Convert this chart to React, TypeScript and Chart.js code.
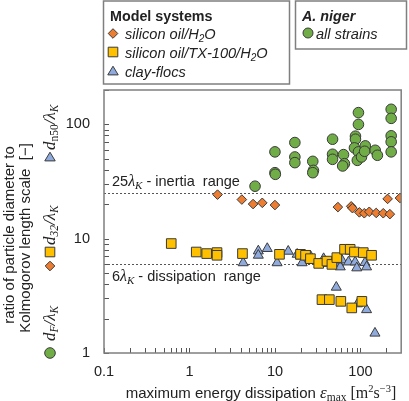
import React, { useEffect, useRef } from "react";
import { Chart, registerables } from "chart.js";

Chart.register(...registerables);

// ---------- data ----------
const nigerX = [5.85, 10, 10, 10.1, 17.1, 17.1, 17.1, 27.7, 28.2, 27.7, 47.2, 47.2, 47.2, 63.4, 65, 62, 94.8, 94.8, 87.5, 87.5, 85.1, 94.8, 92, 103, 114, 112, 149, 158, 229, 229, 229, 229, 229];
const nigerY = [28.8, 57.5, 37.8, 36.6, 69.4, 51.9, 46.3, 47.5, 39.6, 37.8, 74.2, 54.8, 49.5, 54.4, 45.3, 43.3, 126.8, 100, 78.9, 74.2, 62.3, 57.5, 48.5, 51.9, 64.9, 58.2, 59.4, 53.7, 135.6, 113, 79.5, 70.4, 57.5];

const oilX = [2.13, 4.1, 5.55, 7.11, 10, 54.5, 78, 80.7, 97.3, 111, 127, 153, 185, 221, 208, 290];
const oilY = [24.3, 22.0, 20.1, 20.6, 19.7, 18.9, 19.2, 18.5, 17.0, 16.7, 17.2, 16.8, 16.7, 16.4, 22.3, 22.7];

const tritonX = [0.612, 1.2, 1.59, 2.1, 2.1, 4.17, 11.3, 19.9, 22.8, 26.0, 32.5, 40.6, 46.4, 53.0, 65.2, 75.9, 85.1, 108, 135, 35.5, 43.3, 59.0, 79.2, 104];
const tritonY = [9.07, 7.65, 7.41, 7.56, 7.16, 7.41, 7.3, 7.3, 7.16, 6.69, 6.08, 6.37, 5.96, 6.83, 8.08, 8.08, 7.65, 7.56, 7.16, 2.93, 2.93, 2.83, 2.48, 2.83];

const clayX = [4.25, 6.39, 6.39, 8.13, 10.6, 14.3, 18.2, 19.9, 20.8, 26.0, 26.9, 37.1, 39.5, 55.5, 58.1, 60.6, 72.5, 86.8, 90.6, 113, 118, 52.2, 92.3, 118, 148];
const clayY = [6.15, 7.81, 7.16, 8.2, 6.15, 7.76, 7.3, 7.05, 6.15, 7.05, 6.47, 6.69, 6.08, 6.08, 5.66, 6.51, 6.25, 6.25, 5.55, 6.17, 5.66, 3.76, 2.69, 2.39, 1.49];

const refLevels = [25, 6];

const xTickVals = [0.1, 0.2, 0.3, 0.4, 0.5, 0.6, 0.7, 0.8, 0.9, 1, 2, 3, 4, 5, 6, 7, 8, 9, 10, 20, 30, 40, 50, 60, 70, 80, 90, 100, 200];
const xLabelVals = [0.1, 1, 10, 100];
const xLabelText = ["0.1", "1", "10", "100"];
const yTickVals = [1, 2, 3, 4, 5, 6, 7, 8, 9, 10, 20, 30, 40, 50, 60, 70, 80, 90, 100, 200];
const yLabelVals = [1, 10, 100];
const yLabelText = ["1", "10", "100"];

// ---------- styles ----------
const SANS = '"Liberation Sans", Arial, sans-serif';
const SERIF = '"Liberation Serif", "DejaVu Serif", serif';
const GREEN = "#70AD47";
const ORANGE = "#ED7D31";
const YELLOW = "#FFC000";
const BLUE = "#8FAADC";
const EDGE = "#3a3a3a";
const TEXT = "#222222";
const FRAME = "#7f7f7f";

type Seg = { t: string; f: string; dy?: number };

function drawRich(ctx: CanvasRenderingContext2D, segs: Seg[], x: number, y: number) {
  let cx = x;
  for (const s of segs) {
    ctx.font = s.f;
    ctx.fillText(s.t, cx, y + (s.dy || 0));
    cx += ctx.measureText(s.t).width;
  }
  return cx;
}
function richWidth(ctx: CanvasRenderingContext2D, segs: Seg[]) {
  let w = 0;
  for (const s of segs) {
    ctx.font = s.f;
    w += ctx.measureText(s.t).width;
  }
  return w;
}

function marker(ctx: CanvasRenderingContext2D, style: string, x: number, y: number, r: number, fill: string) {
  ctx.save();
  ctx.fillStyle = fill;
  ctx.strokeStyle = EDGE;
  ctx.lineWidth = 1;
  ctx.beginPath();
  if (style === "circle") {
    ctx.arc(x, y, r, 0, Math.PI * 2);
  } else if (style === "rect") {
    const s = r * Math.SQRT1_2;
    ctx.rect(x - s, y - s, 2 * s, 2 * s);
  } else if (style === "rectRot") {
    ctx.moveTo(x, y - r);
    ctx.lineTo(x + r, y);
    ctx.lineTo(x, y + r);
    ctx.lineTo(x - r, y);
    ctx.closePath();
  } else {
    const h = r * 1.5;
    ctx.moveTo(x, y - r);
    ctx.lineTo(x + r * 0.9, y + h - r);
    ctx.lineTo(x - r * 0.9, y + h - r);
    ctx.closePath();
  }
  ctx.fill();
  ctx.stroke();
  ctx.restore();
}

const zip = (xs: number[], ys: number[]) => xs.map((x, i) => ({ x, y: ys[i] }));

const decor = {
  id: "decor",
  beforeDatasetsDraw(chart: any) {
    const { ctx, chartArea: ca, scales } = chart;
    const y = scales.y;
    ctx.save();
    ctx.strokeStyle = "#555";
    ctx.lineWidth = 1;
    ctx.setLineDash([2, 2]);
    for (const v of refLevels) {
      const py = Math.round(y.getPixelForValue(v)) + 0.5;
      ctx.beginPath();
      ctx.moveTo(ca.left, py);
      ctx.lineTo(ca.right, py);
      ctx.stroke();
    }
    ctx.setLineDash([]);
    ctx.fillStyle = TEXT;
    ctx.textBaseline = "alphabetic";
    ctx.textAlign = "left";
    const f13 = `14.5px ${SANS}`;
    const lam = `italic 16px ${SERIF}`;
    const sub = `italic 11px ${SERIF}`;
    drawRich(ctx, [
      { t: "25", f: f13 },
      { t: "λ", f: lam },
      { t: "K", f: sub, dy: 3 },
      { t: " - inertia  range", f: f13 },
    ], ca.left + 8, y.getPixelForValue(25) - 7);
    drawRich(ctx, [
      { t: "6", f: f13 },
      { t: "λ", f: lam },
      { t: "K", f: sub, dy: 3 },
      { t: " - dissipation  range", f: f13 },
    ], ca.left + 8, y.getPixelForValue(6) + 17);
    ctx.restore();
  },
  afterDraw(chart: any) {
    const { ctx, chartArea: ca, scales } = chart;
    const xs = scales.x;
    const ys = scales.y;
    ctx.save();
    // inward ticks
    ctx.strokeStyle = "#555";
    ctx.lineWidth = 1;
    for (const v of yTickVals) {
      const py = Math.round(ys.getPixelForValue(v)) + 0.5;
      ctx.beginPath();
      ctx.moveTo(ca.left, py);
      ctx.lineTo(ca.left + 5, py);
      ctx.stroke();
    }
    for (const v of xTickVals) {
      const px = Math.round(xs.getPixelForValue(v)) + 0.5;
      ctx.beginPath();
      ctx.moveTo(px, ca.bottom);
      ctx.lineTo(px, ca.bottom - 5);
      ctx.stroke();
    }
    // frame
    ctx.strokeStyle = FRAME;
    ctx.lineWidth = 1.5;
    ctx.strokeRect(ca.left, ca.top, ca.right - ca.left, ca.bottom - ca.top);

    // legend boxes
    ctx.strokeRect(103.5, 1, 186, 83);
    ctx.strokeRect(295.5, 1, 111, 48);
    ctx.fillStyle = TEXT;
    ctx.textBaseline = "alphabetic";
    ctx.textAlign = "left";
    const it = `italic 14.6px ${SANS}`;
    const itSub = `italic 10px ${SANS}`;
    ctx.font = `bold 14.3px ${SANS}`;
    ctx.fillText("Model systems", 110, 21);
    marker(ctx, "rectRot", 113, 33.5, 4.8, ORANGE);
    drawRich(ctx, [
      { t: "silicon oil/H", f: it },
      { t: "2", f: itSub, dy: 3 },
      { t: "O", f: it },
    ], 125, 38.5);
    marker(ctx, "rect", 113, 52, 6.8, YELLOW);
    drawRich(ctx, [
      { t: "silicon oil/TX-100/H", f: it },
      { t: "2", f: itSub, dy: 3 },
      { t: "O", f: it },
    ], 125, 57.5);
    marker(ctx, "triangle", 113, 72, 5.8, BLUE);
    drawRich(ctx, [{ t: "clay-flocs", f: it }], 125, 76.5);

    ctx.font = `bold italic 14.3px ${SANS}`;
    ctx.fillText("A. niger", 302, 21);
    marker(ctx, "circle", 308, 33, 5, GREEN);
    drawRich(ctx, [{ t: "all strains", f: it }], 316, 38.5);

    // x title
    const f13 = `15px ${SANS}`;
    const xt: Seg[] = [
      { t: "maximum energy dissipation ", f: f13 },
      { t: "ε", f: `italic 17px ${SERIF}` },
      { t: "max", f: `11.5px ${SERIF}`, dy: 3 },
      { t: " [m", f: `16px ${SERIF}` },
      { t: "2", f: `10.5px ${SERIF}`, dy: -6 },
      { t: "s", f: `16px ${SERIF}` },
      { t: "−3", f: `10.5px ${SERIF}`, dy: -6 },
      { t: "]", f: `16px ${SERIF}` },
    ];
    const xw = richWidth(ctx, xt);
    drawRich(ctx, xt, 261 - xw / 2, 398);

    // y title (rotated)
    ctx.save();
    ctx.translate(10, 235);
    ctx.rotate(-Math.PI / 2);
    ctx.textAlign = "center";
    ctx.textBaseline = "middle";
    ctx.font = `15px ${SANS}`;
    ctx.fillText("ratio of particle diameter to", 0, 0);
    ctx.restore();
    ctx.save();
    ctx.translate(26, 238);
    ctx.rotate(-Math.PI / 2);
    ctx.textAlign = "center";
    ctx.textBaseline = "middle";
    ctx.font = `15px ${SANS}`;
    ctx.fillText("Kolmogorov length scale  [−]", 0, 0);
    ctx.restore();

    // rotated symbol legend
    const dF = `italic 17px ${SERIF}`;
    const sb = `italic 11.5px ${SERIF}`;
    marker(ctx, "circle", 50, 353, 5.3, GREEN);
    marker(ctx, "rectRot", 50, 266, 4.8, ORANGE);
    marker(ctx, "rect", 50, 252, 6.8, YELLOW);
    marker(ctx, "triangle", 50, 158, 5.8, BLUE);
    ctx.save();
    ctx.translate(50, 353);
    ctx.rotate(-Math.PI / 2);
    ctx.fillStyle = TEXT;
    ctx.textAlign = "left";
    ctx.textBaseline = "alphabetic";
    drawRich(ctx, [
      { t: "d", f: dF },
      { t: "F", f: sb, dy: 3 },
      { t: "/λ", f: dF },
      { t: "K", f: sb, dy: 3 },
    ], 12, 5);
    drawRich(ctx, [
      { t: "d", f: dF },
      { t: "32", f: sb, dy: 3 },
      { t: "/λ", f: dF },
      { t: "K", f: sb, dy: 3 },
    ], 108, 5);
    drawRich(ctx, [
      { t: "d", f: dF },
      { t: "n50", f: `11.5px ${SERIF}`, dy: 3 },
      { t: "/λ", f: dF },
      { t: "K", f: sb, dy: 3 },
    ], 203, 5);
    ctx.restore();

    ctx.restore();
  },
};

export default function App() {
  const ref = useRef<HTMLCanvasElement | null>(null);
  useEffect(() => {
    if (!ref.current) return;
    const tickFont = { family: SANS, size: 14.5 };
    const chart = new Chart(ref.current, {
      type: "scatter",
      data: {
        datasets: [
          {
            label: "A. niger – all strains",
            data: zip(nigerX, nigerY),
            pointStyle: "circle",
            pointRadius: 5.3,
            backgroundColor: GREEN,
            borderColor: EDGE,
            borderWidth: 1,
          },
          {
            label: "silicon oil/H2O",
            data: zip(oilX, oilY),
            pointStyle: "rectRot",
            pointRadius: 4.8,
            backgroundColor: ORANGE,
            borderColor: EDGE,
            borderWidth: 1,
          },
          {
            label: "silicon oil/TX-100/H2O",
            data: zip(tritonX, tritonY),
            pointStyle: "rect",
            pointRadius: 6.8,
            backgroundColor: YELLOW,
            borderColor: EDGE,
            borderWidth: 1,
          },
          {
            label: "clay-flocs",
            data: zip(clayX, clayY),
            pointStyle: "triangle",
            pointRadius: 5.8,
            backgroundColor: BLUE,
            borderColor: EDGE,
            borderWidth: 1,
          },
        ],
      },
      options: {
        responsive: false,
        animation: false,
        devicePixelRatio: 1,
        layout: { padding: { top: 90, right: 4, left: 0, bottom: 0 } },
        plugins: { legend: { display: false }, tooltip: { enabled: false } },
        scales: {
          x: {
            type: "logarithmic",
            min: 0.1,
            max: 300,
            afterBuildTicks: (s: any) => {
              s.ticks = xTickVals.map((v) => ({ value: v }));
            },
            afterFit: (s: any) => {
              s.height = 48;
            },
            grid: { display: false, drawTicks: false },
            border: { display: false },
            ticks: {
              autoSkip: false,
              maxRotation: 0,
              padding: 10,
              font: tickFont,
              color: TEXT,
              callback: (v: any) => {
                const i = xLabelVals.findIndex((t) => Math.abs(t - Number(v)) < 1e-9);
                return i >= 0 ? xLabelText[i] : "";
              },
            },
          },
          y: {
            type: "logarithmic",
            min: 1,
            max: 200,
            afterBuildTicks: (s: any) => {
              s.ticks = yTickVals.map((v) => ({ value: v }));
            },
            afterFit: (s: any) => {
              s.width = 104;
            },
            grid: { display: false, drawTicks: false },
            border: { display: false },
            ticks: {
              autoSkip: false,
              padding: 14,
              font: tickFont,
              color: TEXT,
              callback: (v: any) => {
                const i = yLabelVals.findIndex((t) => Math.abs(t - Number(v)) < 1e-9);
                return i >= 0 ? yLabelText[i] : "";
              },
            },
          },
        },
      },
      plugins: [decor],
    } as any);
    return () => chart.destroy();
  }, []);
  return (
    <div style={{ position: "fixed", left: 0, top: 0, width: 409, height: 401, background: "#fff" }}>
      <canvas ref={ref} width={409} height={401} style={{ display: "block", width: 409, height: 401 }} />
    </div>
  );
}
